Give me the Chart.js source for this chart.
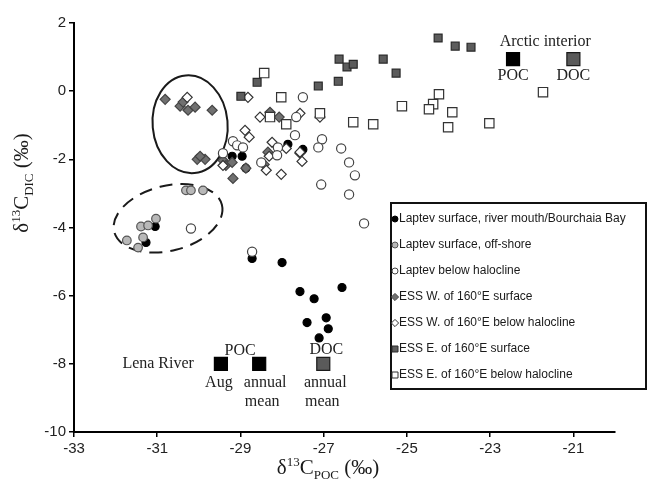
<!DOCTYPE html>
<html>
<head>
<meta charset="utf-8">
<script src="https://cdn.jsdelivr.net/npm/chart.js@4/dist/chart.umd.min.js"></script>
<style>
  html, body { margin: 0; padding: 0; background: #fff; }
  #wrap { width: 647px; height: 479px; position: relative; }
</style>
</head>
<body>
<div id="wrap"><canvas id="chart"></canvas></div>
<script>
// d13C POC (x) and d13C DIC (y), per station group
const riverMouthX = [-31.27, -31.05, -29.20, -28.96, -28.87, -27.86, -27.50, -28.72, -28.00, -27.57, -27.23, -26.56, -27.40, -26.94, -26.89, -27.11];
const riverMouthY = [-4.44, -3.97, -1.91, -1.91, -2.26, -1.56, -1.71, -4.91, -5.03, -5.88, -6.09, -5.76, -6.79, -6.65, -6.97, -7.24];

const offshoreX = [-31.73, -31.46, -31.34, -31.39, -31.22, -31.03, -30.31, -30.19, -29.90];
const offshoreY = [-4.38, -4.59, -4.29, -3.97, -3.94, -3.74, -2.91, -2.91, -2.91];

const laptevDeepX = [-30.19, -28.72, -27.50, -27.66, -27.69, -28.10, -28.12, -28.50, -29.18, -29.08, -28.94, -29.42, -27.04, -27.13, -26.58, -26.39, -26.25, -27.06, -26.39, -26.03];
const laptevDeepY = [-4.03, -4.71, -0.18, -0.76, -1.29, -1.65, -1.88, -2.09, -1.47, -1.59, -1.65, -1.82, -1.41, -1.65, -1.68, -2.09, -2.47, -2.74, -3.03, -3.88];

const essWSurfX = [-30.81, -30.45, -30.38, -30.26, -30.09, -29.68, -30.04, -29.85, -29.97, -29.42, -29.35, -29.20, -29.18, -28.87, -28.34, -28.43, -28.29, -28.07];
const essWSurfY = [-0.24, -0.44, -0.32, -0.56, -0.47, -0.56, -2.00, -2.00, -1.91, -2.03, -2.18, -2.09, -2.56, -2.26, -1.79, -2.15, -0.62, -0.76];

const essWDeepX = [-30.28, -28.82, -28.53, -27.57, -27.09, -28.89, -28.79, -28.24, -28.31, -28.38, -28.02, -27.57, -27.52, -29.42, -27.90, -27.57];
const essWDeepY = [-0.18, -0.18, -0.76, -0.65, -0.76, -1.15, -1.35, -1.50, -1.91, -2.32, -2.44, -1.82, -2.06, -2.18, -1.68, -1.79];

const essESurfX = [-28.99, -28.60, -27.13, -26.63, -26.44, -26.29, -26.65, -25.57, -25.26, -24.25, -23.84, -23.46];
const essESurfY = [-0.15, 0.26, 0.15, 0.94, 0.71, 0.79, 0.29, 0.94, 0.53, 1.56, 1.32, 1.29];

const essEDeepX = [-28.43, -28.02, -28.29, -27.90, -27.09, -26.29, -25.81, -25.12, -24.23, -24.37, -24.47, -23.91, -24.01, -23.02, -21.73];
const essEDeepY = [0.53, -0.18, -0.76, -0.97, -0.65, -0.91, -0.97, -0.44, -0.09, -0.38, -0.53, -0.62, -1.06, -0.94, -0.03];

// end members: Lena River Aug, Lena annual mean, Arctic interior
const endPocX = [-29.47, -28.55, -22.45];
const endPocY = [-8, -8, 0.94];
const endDocX = [-27.01, -21.00];
const endDocY = [-8, 0.94];

const xTicks = [-33, -31, -29, -27, -25, -23, -21];
const yTicks = [2, 0, -2, -4, -6, -8, -10];

const seriesLabels = [
    'Laptev surface, river mouth/Bourchaia Bay',
    'Laptev surface, off-shore',
    'Laptev below halocline',
    'ESS W. of 160°E surface',
    'ESS W. of 160°E below halocline',
    'ESS E. of 160°E surface',
    'ESS E. of 160°E below halocline'
];

const SERIF = '"Liberation Serif", "Times New Roman", serif';
const SANS = '"Liberation Sans", Arial, sans-serif';

function pts(xs, ys) {
    return xs.map((x, i) => ({ x: x, y: ys[i] }));
}

function series(label, xs, ys, style, radius, fill, border) {
    return {
        label: label,
        data: pts(xs, ys),
        pointStyle: style,
        pointRadius: radius,
        pointHoverRadius: radius,
        backgroundColor: fill,
        borderColor: border,
        borderWidth: 1.2,
        showLine: false
    };
}

const datasets = [
    series(seriesLabels[5], essESurfX, essESurfY, 'rect', 5.6, '#5c5c5c', '#2a2a2a'),
    series(seriesLabels[6], essEDeepX, essEDeepY, 'rect', 6.6, '#ffffff', '#333333'),
    series(seriesLabels[2], laptevDeepX, laptevDeepY, 'circle', 4.6, '#ffffff', '#444444'),
    series(seriesLabels[4], essWDeepX, essWDeepY, 'rectRot', 5, '#ffffff', '#333333'),
    series(seriesLabels[3], essWSurfX, essWSurfY, 'rectRot', 5, '#707070', '#444444'),
    series(seriesLabels[1], offshoreX, offshoreY, 'circle', 4.3, '#b8b8b8', '#555555'),
    series(seriesLabels[0], riverMouthX, riverMouthY, 'circle', 4, '#000000', '#000000'),
    series('POC end member', endPocX, endPocY, 'rect', 9.2, '#000000', '#000000'),
    series('DOC end member', endDocX, endDocY, 'rect', 9.2, '#5a5a5a', '#1a1a1a')
];

// legend entries in the order of the box
const legendMarks = [
    { shape: 'circle', fill: '#000000', stroke: '#000000' },
    { shape: 'circle', fill: '#b8b8b8', stroke: '#555555' },
    { shape: 'circle', fill: '#ffffff', stroke: '#444444' },
    { shape: 'diamond', fill: '#707070', stroke: '#444444' },
    { shape: 'diamond', fill: '#ffffff', stroke: '#333333' },
    { shape: 'square', fill: '#5c5c5c', stroke: '#2a2a2a' },
    { shape: 'square', fill: '#ffffff', stroke: '#333333' }
];

function drawRich(ctx, parts, cx, cy) {
    let total = 0;
    parts.forEach(p => {
        ctx.font = p.size + 'px ' + SERIF;
        p.w = ctx.measureText(p.t).width;
        total += p.w;
    });
    let x = cx - total / 2;
    parts.forEach(p => {
        ctx.font = p.size + 'px ' + SERIF;
        ctx.fillText(p.t, x, cy + p.dy);
        x += p.w;
    });
}

function drawMark(ctx, m, x, y) {
    ctx.beginPath();
    if (m.shape === 'circle') {
        ctx.arc(x, y, 3, 0, Math.PI * 2);
    } else if (m.shape === 'diamond') {
        ctx.moveTo(x, y - 3.6);
        ctx.lineTo(x + 3.6, y);
        ctx.lineTo(x, y + 3.6);
        ctx.lineTo(x - 3.6, y);
        ctx.closePath();
    } else {
        ctx.rect(x - 3, y - 3, 6, 6);
    }
    ctx.fillStyle = m.fill;
    ctx.fill();
    ctx.strokeStyle = m.stroke;
    ctx.lineWidth = 1;
    ctx.stroke();
}

const ellipses = {
    id: 'ellipses',
    beforeDatasetsDraw(chart) {
        const ctx = chart.ctx;
        const xs = chart.scales.x, ys = chart.scales.y;
        ctx.save();
        ctx.strokeStyle = '#1a1a1a';
        ctx.lineWidth = 2;
        // solid ring around ESS W surface cluster
        ctx.beginPath();
        ctx.ellipse(xs.getPixelForValue(-30.21), ys.getPixelForValue(-0.97), 37.5, 49, -0.09, 0, Math.PI * 2);
        ctx.stroke();
        // dashed ring around off-shore cluster
        ctx.setLineDash([13, 8]);
        ctx.beginPath();
        ctx.ellipse(xs.getPixelForValue(-30.74), ys.getPixelForValue(-3.73), 55.5, 32.5, -0.245, 0, Math.PI * 2);
        ctx.stroke();
        ctx.restore();
    }
};

const annotations = {
    id: 'annotations',
    afterDatasetsDraw(chart) {
        const ctx = chart.ctx;
        const xs = chart.scales.x, ys = chart.scales.y;
        ctx.save();
        ctx.fillStyle = '#222';
        ctx.textBaseline = 'middle';
        ctx.textAlign = 'center';

        // Arctic interior end members
        const aPoc = xs.getPixelForValue(endPocX[2]);
        const aDoc = xs.getPixelForValue(endDocX[1]);
        const aY = ys.getPixelForValue(endPocY[2]);
        ctx.font = '16px ' + SERIF;
        ctx.fillText('Arctic interior', (aPoc + aDoc) / 2 + 2, aY - 17);
        ctx.fillText('POC', aPoc, aY + 17);
        ctx.fillText('DOC', aDoc, aY + 17);

        // Lena River end members
        const lAug = xs.getPixelForValue(endPocX[0]);
        const lMean = xs.getPixelForValue(endPocX[1]);
        const lDoc = xs.getPixelForValue(endDocX[0]);
        const lY = ys.getPixelForValue(endPocY[0]);
        ctx.fillText('POC', (lAug + lMean) / 2, lY - 13);
        ctx.fillText('DOC', lDoc + 3, lY - 14);
        ctx.fillText('Aug', lAug - 2, lY + 19);
        ctx.fillText('annual', lMean + 6, lY + 19);
        ctx.fillText('mean', lMean + 3, lY + 38);
        ctx.fillText('annual', lDoc + 2, lY + 19);
        ctx.fillText('mean', lDoc - 1, lY + 38);
        ctx.textAlign = 'right';
        ctx.fillText('Lena River', lAug - 27, lY);

        // legend box
        ctx.strokeStyle = '#111';
        ctx.lineWidth = 2;
        ctx.strokeRect(391, 203, 255, 186);
        ctx.textAlign = 'left';
        ctx.font = '12px ' + SANS;
        seriesLabels.forEach((lab, i) => {
            const y = 219 + i * 26;
            drawMark(ctx, legendMarks[i], 395, y);
            ctx.fillStyle = '#1a1a1a';
            ctx.fillText(lab, 399, y);
        });

        // axis titles
        ctx.fillStyle = '#1a1a1a';
        ctx.textBaseline = 'alphabetic';
        drawRich(ctx, [
            { t: 'δ', size: 21, dy: 0 },
            { t: '13', size: 13, dy: -8 },
            { t: 'C', size: 21, dy: 0 },
            { t: 'POC', size: 13, dy: 5 },
            { t: ' (‰)', size: 21, dy: 0 }
        ], 328, 474);

        ctx.translate(28, 183);
        ctx.rotate(-Math.PI / 2);
        drawRich(ctx, [
            { t: 'δ', size: 21, dy: 0 },
            { t: '13', size: 13, dy: -8 },
            { t: 'C', size: 21, dy: 0 },
            { t: 'DIC', size: 13, dy: 5 },
            { t: ' (‰)', size: 21, dy: 0 }
        ], 0, 0);
        ctx.restore();
    }
};

const axisStyle = {
    grid: { display: true, drawOnChartArea: false, drawTicks: true, tickLength: 5, color: '#000', lineWidth: 1.5 },
    border: { display: true, color: '#000', width: 2 },
    ticks: { color: '#222', font: { family: SANS, size: 15 }, padding: 3 }
};

new Chart(document.getElementById('chart'), {
    type: 'scatter',
    data: { datasets: datasets },
    options: {
        responsive: true,
        maintainAspectRatio: false,
        animation: false,
        layout: { padding: { top: 23, right: 32, left: 0, bottom: 0 } },
        plugins: {
            legend: { display: false },
            tooltip: { enabled: false }
        },
        scales: {
            x: {
                type: 'linear',
                min: -33,
                max: -20,
                ...axisStyle,
                afterBuildTicks: s => { s.ticks = xTicks.map(v => ({ value: v })); },
                afterFit: s => { s.height = 47; }
            },
            y: {
                type: 'linear',
                min: -10,
                max: 2,
                ...axisStyle,
                afterBuildTicks: s => { s.ticks = yTicks.map(v => ({ value: v })); },
                afterFit: s => { s.width = 74; }
            }
        }
    },
    plugins: [ellipses, annotations]
});
</script>
</body>
</html>
